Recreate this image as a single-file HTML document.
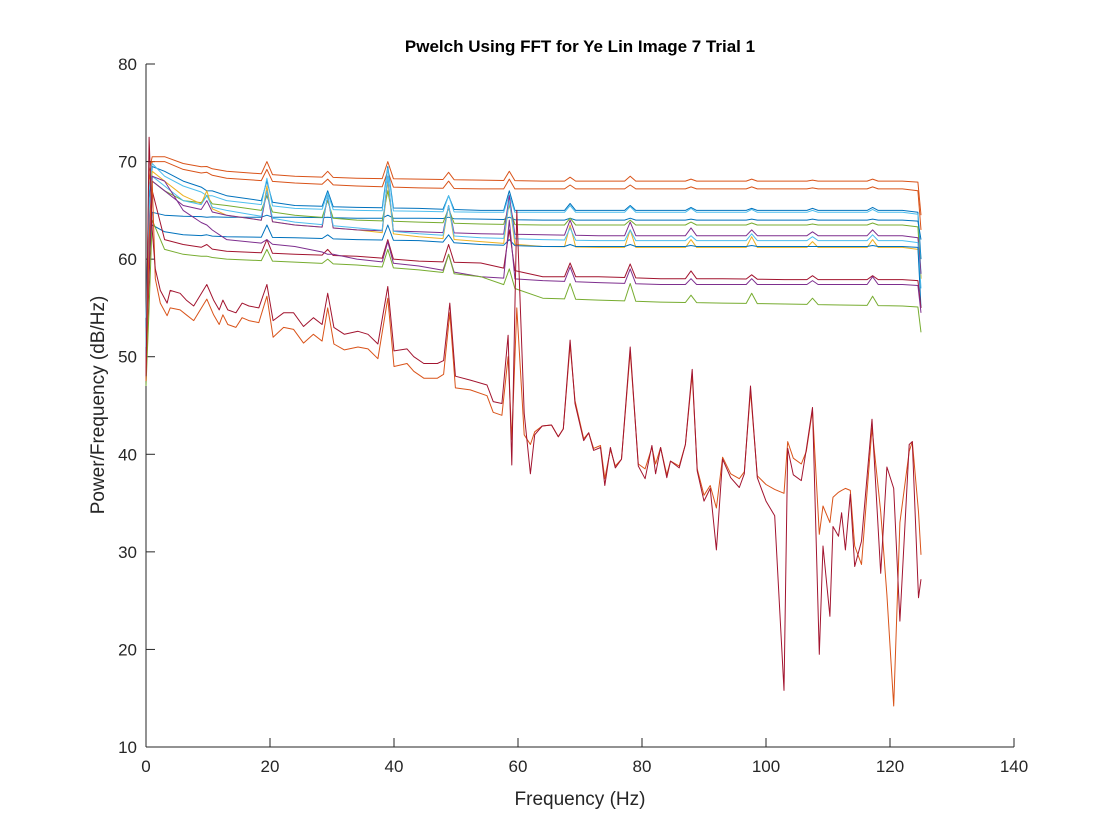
<!DOCTYPE html>
<html><head><meta charset="utf-8"><style>
body{margin:0;background:#fff;}
svg{display:block;font-family:"Liberation Sans",Arial,sans-serif;}
</style></head><body>
<svg id="chart" width="1120" height="840">
<rect width="1120" height="840" fill="#fff"/>
<text x="580" y="52" text-anchor="middle" font-size="17" font-weight="bold" fill="#000">Pwelch Using FFT for Ye Lin Image 7 Trial 1</text>
<g id="axes"></g>
<g id="plot"></g>
<text x="580" y="805" text-anchor="middle" font-size="19" fill="#262626">Frequency (Hz)</text>
<text transform="translate(104,405) rotate(-90)" text-anchor="middle" font-size="19" fill="#262626">Power/Frequency (dB/Hz)</text>
</svg>
<script>
const xTicks=[0,20,40,60,80,100,120,140];
const yTicks=[10,20,30,40,50,60,70,80];
const gridF=[0,0.5,1,3,6,9.8,13,19.5,24,29.3,34,39,44,48.8,54,58.6,64,68.4,73,78.1,83,87.9,93,97.7,103,107.5,112,117.2,122,124.5,125];
const peakF=[9.8,19.5,29.3,39,48.8,58.6,68.4,78.1,87.9,97.7,107.5,117.2];
const flatColors=["#D95319","#D95319","#0072BD","#4DBEEE","#0072BD","#77AC30","#EDB120","#7E2F8E","#4DBEEE","#0072BD","#A2142F","#7E2F8E","#77AC30"];
const s1=[52,69,70.5,70.5,69.8,69.5,69,70,68.5,69,68.3,70,68.2,68.9,68.1,69,68,68.4,68,68.5,68,68.2,68,68.2,68,68.1,68,68.2,68,67.9,64.5];
const s2=[51,68,70,70,69.2,68.9,68.3,69.2,67.8,68.2,67.5,69,67.3,68,67.2,68.2,67.2,67.6,67.2,67.6,67.2,67.4,67.2,67.4,67.2,67.3,67.2,67.4,67.2,67,63];
const s3=[53,66,69.5,69,68,67,66.5,68,65.5,67,65.3,69.5,65.2,66.5,65,67,65,65.7,65,65.5,65,65.3,65,65.2,65,65.2,65,65.3,65,64.8,60];
const s4=[54,67,69.8,68.5,67.5,66.5,66,68.3,65.2,66.8,65,69.3,64.9,66.5,64.8,66.6,64.8,65.5,64.8,65.4,64.8,65.2,64.8,65.1,64.8,65,64.8,65.1,64.8,64.6,58.5];
const s5=[52,60,64.8,64.5,64.4,64.3,64.3,64.5,64.3,64.3,64.2,64.5,64.2,64.3,64.1,64.3,64,64.2,64,64.2,64,64.1,64,64.1,64,64.1,64,64.1,64,63.9,62];
const s6=[50,62,68,67,66,66.5,65.5,66.5,64.5,66,64,67,63.8,65.2,63.6,65.5,63.5,64.2,63.5,64,63.5,63.8,63.5,63.7,63.5,63.6,63.5,63.7,63.5,63.3,58];
const s7=[49,64,69,68,66.5,67,64.5,67.5,63.5,66.5,63,68,62.3,65.5,61.8,66,61.3,63.5,61.2,63,61.2,62,61.2,62.3,61.2,61.8,61.2,62,61.2,61,58];
const s8=[50,63,68,67,65.5,66,64.5,67,63.5,66.5,63,68.5,62.8,65.5,62.6,66.5,62.5,64,62.4,63.8,62.4,63.2,62.4,63,62.4,62.8,62.4,63,62.4,62.2,58.5];
const s9=[51,65,68.5,67.5,66,66.5,65,67,63.8,66.5,63.2,68.5,62.6,65.5,62.2,66,62,63.2,61.9,63,61.9,62.4,61.9,62.6,61.9,62.3,61.9,62.5,61.9,61.7,57];
const s10=[50,60,63.5,62.8,62.5,62.5,62.3,63.5,62.2,62.5,62,63.5,61.9,62.5,61.5,62,61.3,61.5,61.3,61.5,61.3,61.4,61.3,61.4,61.3,61.3,61.3,61.4,61.3,61.2,55];
const s11=[48,58,67,62,61.5,61.5,60.8,62,60.5,61,60.3,62,59.8,61.5,59.6,63,58.2,59.6,58.2,59.5,58,58.8,58,58.4,57.9,58.3,57.9,58.3,57.9,57.8,55];
const s12=[49,60,68.5,68,65,63.5,62,62,61.3,60.5,60,61.8,59.3,60.5,58.2,64,57.8,59.2,57.6,59,57.4,58,57.4,58,57.4,57.8,57.4,58.2,57.4,57.3,54.5];
const s13=[47,55,64,61,60.5,60.3,60,61,59.7,60,59.4,61,58.9,60.5,58.2,59,56,57.5,55.8,57.5,55.6,56.3,55.5,56.5,55.4,56,55.3,56.2,55.2,55.1,52.5];
const noisyF=[0,0.5,1,1.5,2.3,3.4,3.9,5.5,6.5,7.7,9.8,10.9,11.8,12.4,13.2,14.5,15.5,16.6,18.2,19.5,20.5,22.2,23.8,25.4,27,28.4,29.3,30.3,32,34.2,35.8,37.4,39,40,42.1,43.2,44.8,47,48,49,49.9,52.3,55,56,57.4,58.4,59,59.8,61,62,62.7,63.9,65.4,66.5,67.3,68.4,69.2,70.6,71.4,72.2,73.3,74,74.9,75.7,76.7,78.1,79.4,80.5,81.6,82.2,83,84,84.6,86,87,88.1,88.9,90,91,92,93,94.3,95.7,96.5,97.5,98.6,100,101.4,102.9,103.5,104.4,105.7,106.5,107.5,108.6,109.2,110.3,110.8,111.7,112.2,112.8,113.6,114.3,115.4,117.1,118.5,119.5,120.6,121.6,123.1,123.6,124.6,125];
const noisyOrange=[47.5,62,68,58,55.5,54.2,55,54.8,54.3,53.7,55.9,54.3,53.3,54.3,53.3,53,54,53.7,53.5,56.2,52,53,52.8,51.4,52.3,51.6,55,51.3,50.7,51,50.8,49.8,56,49,49.3,48.5,47.8,47.8,48.2,54.5,46.8,46.6,46,44.3,44,50,41.5,55,42,41,42.3,42.9,43,41.8,42.6,51.2,45.5,41.6,42.2,40.6,40.9,37.5,40.5,38.8,39.5,50.5,39,38.5,40.7,39,40.7,37.9,39.3,38.8,41,48.2,38.5,35.8,36.8,34.5,39.7,38,37.5,38.2,46.5,37.8,36.9,36.4,36,41.3,39.6,39,40.3,44.5,31.8,34.7,33,35.6,36.1,36.3,36.5,36.3,30.6,28.7,42.7,34.1,25.6,14.2,33,40.3,41.3,34.1,29.7];
const noisyMaroon=[48,72.5,63,59,56.8,55.5,56.8,56.5,55.8,55.2,57.4,55.8,54.8,55.8,54.8,54.5,55.5,55.2,55,57.4,53.7,54.5,54.5,53.1,54,53.3,56.5,53,52.3,52.6,52.3,51.3,57.2,50.6,50.8,50,49.3,49.3,49.6,55.5,48,47.6,47.1,45.4,45.2,52.2,38.9,65,44.2,38,42,42.9,43,41.8,42.6,51.7,45.2,41.4,42.2,40.4,40.7,36.8,40.7,38.6,39.5,51,38.8,37.5,40.9,38,40.7,37.6,39.3,38.6,41,48.7,38.3,35.2,36.5,30.2,39.5,37.6,36.6,38,47,37.6,35.2,33.7,15.8,40.6,37.9,37.3,40.5,44.8,19.5,30.6,23.4,32.6,31.6,34,30.2,35.9,28.5,31.1,43.6,27.8,38.7,36.5,22.9,41,41.3,25.3,27.2];

const X0=146,X1=1014,Y0=747,Y1=64,XMIN=0,XMAX=140,YMIN=10,YMAX=80;
function xs(v){return X0+(v-XMIN)/(XMAX-XMIN)*(X1-X0);}
function ys(v){return Y0-(v-YMIN)/(YMAX-YMIN)*(Y0-Y1);}
const NS="http://www.w3.org/2000/svg";
const axes=document.getElementById('axes'),plot=document.getElementById('plot');
function mk(tag,attrs,parent){const e=document.createElementNS(NS,tag);for(const k in attrs)e.setAttribute(k,attrs[k]);parent.appendChild(e);return e;}
const xl=mk('line',{x1:X0,y1:Y0,x2:X1,y2:Y0,stroke:'#262626','stroke-width':1},axes);


const yl=mk('line',{x1:X0,y1:Y0,x2:X0,y2:Y1,stroke:'#262626','stroke-width':1},axes);


xTicks.forEach(t=>{
  const x=xs(t);
  const tk=mk('line',{x1:x,y1:Y0,x2:x,y2:Y0-9,stroke:'#262626'},axes);
  
  
  const lb=mk('text',{x:x,y:Y0+25,'text-anchor':'middle','font-size':17,fill:'#262626'},axes);
  lb.textContent=t;
  
  
});
yTicks.forEach(t=>{
  const y=ys(t);
  const tk=mk('line',{x1:X0,y1:y,x2:X0+9,y2:y,stroke:'#262626'},axes);
  
  
  const lb=mk('text',{x:X0-9,y:y+6,'text-anchor':'end','font-size':17,fill:'#262626'},axes);
  lb.textContent=t;
  
  
});
function drawPts(pts,color,name){
  const p=mk('polyline',{points:pts.map(q=>xs(q[0]).toFixed(1)+','+ys(q[1]).toFixed(1)).join(' '),fill:'none',stroke:color,'stroke-width':1,'stroke-linejoin':'round'},plot);
  
  
}
const peakSet=new Set(peakF);
function flatPts(s){
  const pts=[];
  gridF.forEach((f,i)=>{
    if(peakSet.has(f)&&i>0&&i<gridF.length-1){
      const f0=gridF[i-1],v0=s[i-1],f1=gridF[i+1],v1=s[i+1];
      const interp=x=>v0+(v1-v0)*(x-f0)/(f1-f0);
      pts.push([f-0.9,interp(f-0.9)]);
      pts.push([f,s[i]]);
      pts.push([f+0.9,interp(f+0.9)]);
    } else pts.push([f,s[i]]);
  });
  return pts;
}
const flats=[s1,s2,s3,s4,s5,s6,s7,s8,s9,s10,s11,s12,s13];
flats.forEach((s,i)=>drawPts(flatPts(s),flatColors[i],'channel-line-'+(i+1)));
drawPts(noisyF.map((f,i)=>[f,noisyOrange[i]]),'#D95319','noisy-channel-orange');
drawPts(noisyF.map((f,i)=>[f,noisyMaroon[i]]),'#A2142F','noisy-channel-maroon');
</script>
</body></html>
